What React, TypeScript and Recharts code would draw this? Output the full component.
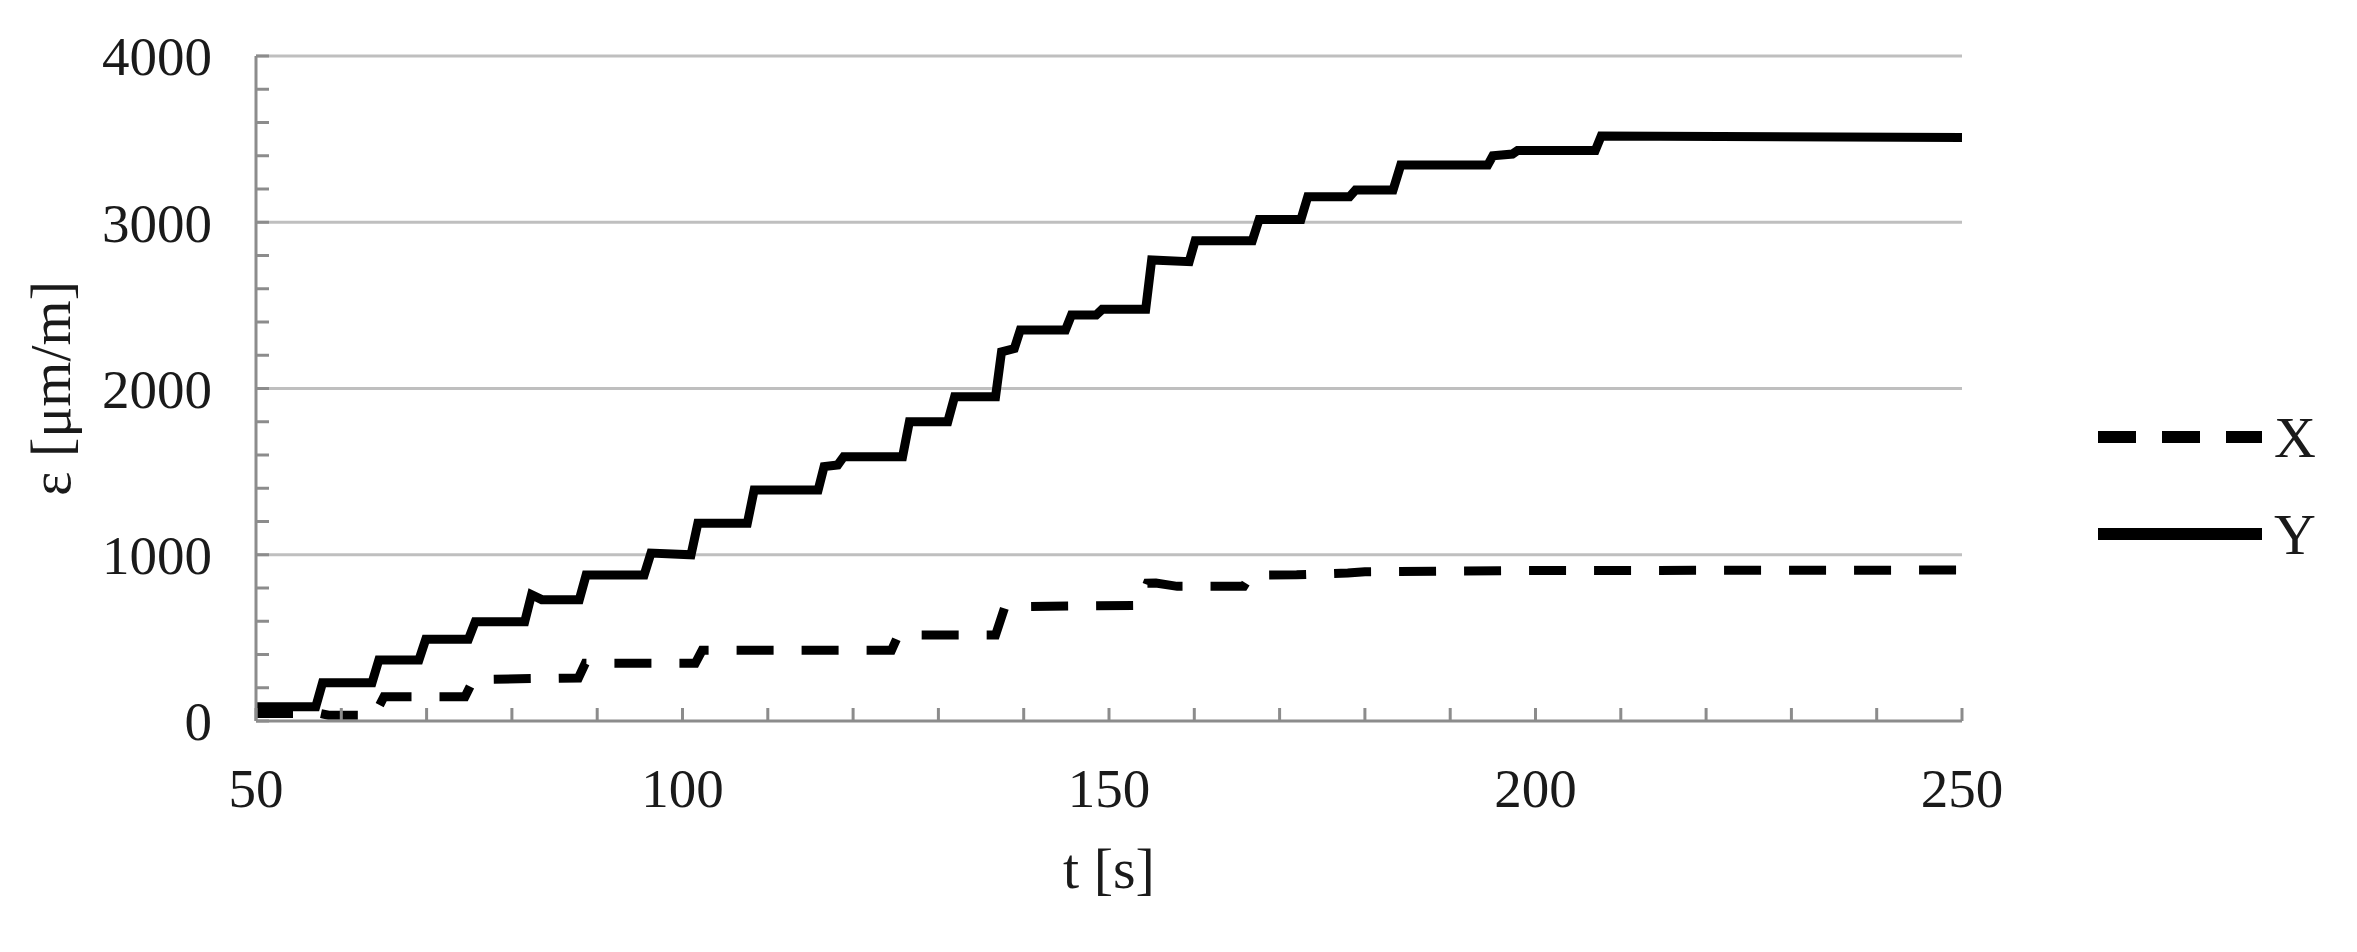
import React from 'react';
import { LineChart, Line, XAxis, YAxis, ReferenceLine, Legend } from 'recharts';

// ---- data ----
const yTime = [50, 57.0, 57.8, 63.6, 64.4, 69.1, 69.9, 74.9, 75.7, 81.5, 82.3, 83.5, 87.9, 88.7, 95.5, 96.3, 101.0, 101.8, 107.6, 108.4, 115.9, 116.6, 118.2, 118.9, 125.8, 126.6, 131.1, 131.9, 136.7, 137.4, 138.9, 139.6, 144.9, 145.6, 148.5, 149.2, 154.3, 155.0, 159.4, 160.1, 166.8, 167.6, 172.5, 173.3, 178.2, 178.9, 183.3, 184.2, 194.4, 195.0, 197.3, 197.9, 207.0, 207.7, 250];
const yStrain = [85, 85, 230, 230, 367, 367, 491, 491, 597, 597, 760, 730, 730, 878, 878, 1010, 1000, 1189, 1189, 1389, 1389, 1530, 1540, 1590, 1590, 1800, 1800, 1951, 1951, 2221, 2240, 2352, 2352, 2442, 2442, 2476, 2476, 2773, 2763, 2889, 2889, 3017, 3017, 3154, 3154, 3194, 3194, 3344, 3344, 3400, 3410, 3431, 3431, 3519, 3510];

const xTime = [50, 57.6, 58.5, 63.9, 65.0, 74.5, 75.5, 87.8, 88.6, 101.5, 102.3, 124.5, 125.3, 136.7, 137.8, 153.5, 154.5, 155.5, 158.0, 165.8, 166.6, 172.0, 178.0, 180.0, 199.0, 250];
const xStrain = [45, 45, 35, 35, 146, 146, 250, 259, 347, 347, 425, 425, 517, 517, 688, 695, 829, 830, 810, 810, 878, 880, 890, 898, 905, 908];

const timeTicks = [50, 60, 70, 80, 90, 100, 110, 120, 130, 140, 150, 160, 170, 180, 190, 200, 210, 220, 230, 240, 250];
const timeLabels = [50, 100, 150, 200, 250];
const strainTicks = [0, 200, 400, 600, 800, 1000, 1200, 1400, 1600, 1800, 2000, 2200, 2400, 2600, 2800, 3000, 3200, 3400, 3600, 3800, 4000];
const strainLabels = [0, 1000, 2000, 3000, 4000];
const gridStrains = [1000, 2000, 3000, 4000];
const seriesNames = ['X', 'Y'];

const xData = xTime.map((t, i) => ({ t, X: xStrain[i] }));
const yData = yTime.map((t, i) => ({ t, Y: yStrain[i] }));

// ---- styles ----
const FONT = '"Liberation Serif", "Times New Roman", serif';
const TEXT = '#1a1a1a';
const AXIS = '#8c8c8c';
const GRID = '#bfbfbf';
const seriesStyle: Record<string, { dash?: string; legendDash?: string }> = {
  X: { dash: '37 28', legendDash: '38 26' },
  Y: {},
};

const XTick = (props: any) => {
  const { x, y, payload } = props;
  const v = payload.value;
  return (
    <g>
      <line x1={x} x2={x} y1={y} y2={y - 13} stroke={AXIS} strokeWidth={3} />
      {timeLabels.includes(v) && (
        <text x={x} y={y + 86} textAnchor="middle" fontSize={55} fontFamily={FONT} fill={TEXT}>
          {v}
        </text>
      )}
    </g>
  );
};

const YTick = (props: any) => {
  const { x, y, payload } = props;
  const v = payload.value;
  return (
    <g>
      <line x1={x} x2={x + 13} y1={y} y2={y} stroke={AXIS} strokeWidth={3} />
      {strainLabels.includes(v) && (
        <text x={x - 44} y={y} dy="0.35em" textAnchor="end" fontSize={55} fontFamily={FONT} fill={TEXT}>
          {v}
        </text>
      )}
    </g>
  );
};

const YLabel = (props: any) => {
  const vb = props.viewBox || { x: 0, y: 56, width: 256, height: 665 };
  const cx = vb.x + 70;
  const cy = vb.y + vb.height / 2;
  return (
    <text
      x={cx}
      y={cy}
      transform={`rotate(-90, ${cx}, ${cy})`}
      textAnchor="middle"
      fontSize={58}
      fontFamily={FONT}
      fill={TEXT}
    >
      ε [μm/m]
    </text>
  );
};

const XLabel = (props: any) => {
  const vb = props.viewBox || { x: 256, y: 721, width: 1706, height: 231 };
  const cx = vb.x + vb.width / 2;
  return (
    <text x={cx} y={vb.y + 167} textAnchor="middle" fontSize={58} fontFamily={FONT} fill={TEXT}>
      t [s]
    </text>
  );
};

const renderLegend = (props: any) => {
  const payload: any[] = props.payload || [];
  const items = seriesNames.filter((n) => payload.length === 0 || payload.some((p) => p.value === n || p.dataKey === n));
  const rowY = [47, 144];
  return (
    <svg width={267} height={190} style={{ display: 'block' }}>
      {items.map((name, i) => (
        <g key={name}>
          <line
            x1={8}
            x2={172}
            y1={rowY[i]}
            y2={rowY[i]}
            stroke="#000"
            strokeWidth={12}
            strokeDasharray={seriesStyle[name].legendDash}
          />
          <text x={184} y={rowY[i]} dominantBaseline="central" fontSize={58} fontFamily={FONT} fill={TEXT}>
            {name}
          </text>
        </g>
      ))}
    </svg>
  );
};

export default function App() {
  return (
    <div style={{ position: 'absolute', left: 0, top: 0, width: 2357, height: 952, background: '#fff' }}>
      <LineChart width={2357} height={952} margin={{ top: 56, right: 395, bottom: 0, left: 0 }}>
        <XAxis
          type="number"
          dataKey="t"
          domain={[50, 250]}
          ticks={timeTicks}
          interval={0}
          allowDataOverflow
          height={231}
          tickSize={0}
          tickMargin={0}
          tickLine={false}
          axisLine={{ stroke: AXIS, strokeWidth: 3 }}
          tick={<XTick />}
          label={<XLabel />}
        />
        <YAxis
          type="number"
          domain={[0, 4000]}
          ticks={strainTicks}
          interval={0}
          allowDataOverflow
          width={256}
          tickSize={0}
          tickMargin={0}
          tickLine={false}
          axisLine={{ stroke: AXIS, strokeWidth: 3 }}
          tick={<YTick />}
          label={<YLabel />}
        />
        {gridStrains.map((v) => (
          <ReferenceLine key={v} y={v} stroke={GRID} strokeWidth={3} />
        ))}
        <Line
          data={xData}
          dataKey="X"
          name="X"
          type="linear"
          stroke="#000"
          strokeWidth={9}
          strokeDasharray={seriesStyle.X.dash}
          dot={false}
          activeDot={false}
          isAnimationActive={false}
        />
        <Line
          data={yData}
          dataKey="Y"
          name="Y"
          type="linear"
          stroke="#000"
          strokeWidth={9}
          dot={false}
          activeDot={false}
          isAnimationActive={false}
        />
        <Legend
          layout="vertical"
          align="center"
          verticalAlign="middle"
          content={renderLegend}
          wrapperStyle={{ position: 'absolute', left: 2090, top: 390, width: 267, height: 190 }}
        />
      </LineChart>
    </div>
  );
}
